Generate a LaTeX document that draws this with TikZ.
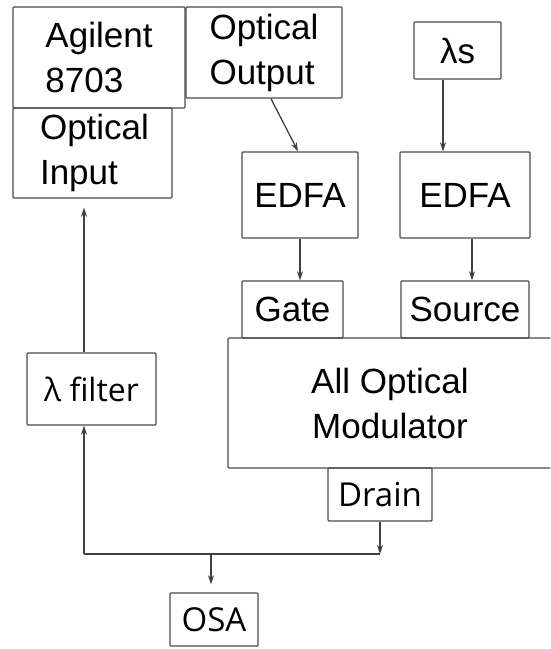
\documentclass[tikz,border=0pt]{standalone}
\usepackage{fontspec}
\setmainfont{Liberation Sans}
\newfontfamily\humfont{Open Sans}
\usetikzlibrary{arrows.meta}
\begin{document}
\begin{tikzpicture}[x=1pt,y=-1pt,
  box/.style={draw=black!70, line width=1.4pt, rounded corners=1pt, inner sep=0pt,
    font=\fontsize{35}{45}\selectfont},
  hbox/.style={box, font=\humfont\fontsize{33}{40}\selectfont},
  arr/.style={draw=black!75, line width=1.3pt, -{Stealth[length=9pt,width=6pt]}},
  ln/.style={draw=black!75, line width=1.3pt}]
\useasboundingbox (0,0) rectangle (550,649);
\clip (0,0) rectangle (550,649);

% boxes
\node[box, minimum width=172pt, minimum height=101pt, align=left] (agilent) at (99,57.5) {Agilent\\8703};
\node[box, minimum width=159pt, minimum height=90pt, align=left] (optin) at (92.5,153) {\hspace*{4pt}Optical\\\hspace*{4pt}Input};
\node[box, minimum width=156pt, minimum height=91pt, align=left] (optout) at (264,52.5) {Optical\\Output};
\node[box, minimum width=87pt, minimum height=57pt] (ls) at (457.5,50.5) {λs};
\node[box, minimum width=116pt, minimum height=86pt] (edfa1) at (300,195) {EDFA};
\node[box, minimum width=130pt, minimum height=86pt] (edfa2) at (465,195) {EDFA};
\node[box, minimum width=101pt, minimum height=57pt] (gate) at (292.5,309.5) {Gate};
\node[box, minimum width=128pt, minimum height=57pt] (source) at (465,309.5) {Source};
\node[box, minimum width=324pt, minimum height=130pt, align=center] (mod) at (390,403) {All Optical\\Modulator};
\node[hbox, font=\humfont\fontsize{32}{38}\selectfont, minimum width=129pt, minimum height=72pt] (lfilter) at (91.5,389) {λ filter};
\node[hbox, minimum width=104pt, minimum height=53pt] (drain) at (380,494.5) {Drain};
\node[hbox, minimum width=88pt, minimum height=53pt] (osa) at (214,619.5) {OSA};

% connectors
\coordinate (corner) at (84,554);
\draw[arr] ([xshift=7pt]optout.south) -- ([xshift=-2pt]edfa1.north);
\draw[arr] ([xshift=-14.5pt]ls.south) -- ([xshift=-14.5pt]ls.south |- edfa2.north);
\draw[arr] (edfa1.south) -- (edfa1.south |- gate.north);
\draw[arr] ([xshift=7pt]edfa2.south) -- ([xshift=7pt]edfa2.south |- source.north);
\draw[arr] (drain.south) -- (drain.south |- corner);
\draw[ln] (corner) -- (drain.south |- corner);
\draw[arr] (corner) -- (lfilter.south -| corner);
\draw[arr] (lfilter.north -| corner) -- ([yshift=-9pt]optin.south -| corner);
\draw[arr] ([xshift=-3pt]osa.north |- corner) -- ([xshift=-3pt,yshift=8pt]osa.north);
\end{tikzpicture}
\end{document}
